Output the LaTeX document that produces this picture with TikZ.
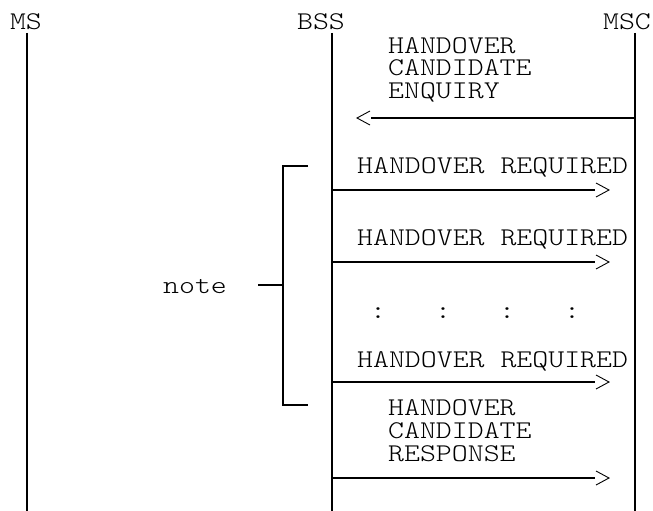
\documentclass[tikz,border=0pt]{standalone}
\usepackage{fontspec}
\newfontfamily\cour{Latin Modern Mono Light}[FakeStretch=1.19]
\begin{document}
\begin{tikzpicture}[x=1pt,y=-1pt,
  lbl/.style={font=\cour\fontsize{25.5}{23}\selectfont, inner sep=0pt, anchor=base west, text height=15pt, text depth=3pt},
  head/.style={font=\cour\fontsize{25.5}{23}\selectfont, inner sep=0pt, anchor=base, text height=15pt, text depth=3pt},
  life/.style={line width=1.8pt},
  msg/.style={line width=1.6pt},
  tip/.style={line width=0.9pt},
  brk/.style={line width=1.6pt}]
\useasboundingbox (0,0) rectangle (653,511);
% headers
\node[head] (ms) at (26,30) {MS};
\node[head] (bss) at (321,30) {BSS};
\node[head] (msc) at (627,30) {MSC};
% lifelines
\coordinate (msB) at (27,511);
\coordinate (bssT) at (332,33);
\coordinate (bssB) at (332,511);
\coordinate (mscT) at (635,33);
\coordinate (mscB) at (635,511);
\draw[life] (27,33) coordinate (msT) -- (msB);
\draw[life] (bssT) -- (bssB);
\draw[life] (mscT) -- (mscB);
% enquiry
\node[lbl] (enq1) at (388,53) {HANDOVER};
\node[lbl] (enq2) at (388,76) {CANDIDATE};
\node[lbl] (enq3) at (388,99) {ENQUIRY};
\coordinate (q0) at (635,118);
\coordinate (q1) at (371,118);
\draw[msg] (q0) -- (q1);
\draw[tip] (q1) ++(-1,-7) -- ++(-13,7) -- ++(13,7);
% required 1
\node[lbl] (hr1) at (357,173) {HANDOVER REQUIRED};
\coordinate (a0) at (332,190);
\coordinate (a1) at (595,190);
\draw[msg] (a0) -- (a1);
\draw[tip] (a1) ++(1,-7) -- ++(13,7) -- ++(-13,7);
% required 2
\node[lbl] (hr2) at (357,245) {HANDOVER REQUIRED};
\coordinate (b0) at (332,262);
\coordinate (b1) at (595,262);
\draw[msg] (b0) -- (b1);
\draw[tip] (b1) ++(1,-7) -- ++(13,7) -- ++(-13,7);
% dots
\node[lbl, anchor=center] (d1) at (378,312) {:};
\node[lbl, anchor=center] (d2) at (443,312) {:};
\node[lbl, anchor=center] (d3) at (507,312) {:};
\node[lbl, anchor=center] (d4) at (572,312) {:};
% required 3
\node[lbl] (hr3) at (357,367) {HANDOVER REQUIRED};
\coordinate (c0) at (332,382);
\coordinate (c1) at (595,382);
\draw[msg] (c0) -- (c1);
\draw[tip] (c1) ++(1,-7) -- ++(13,7) -- ++(-13,7);
% response
\node[lbl] (rsp1) at (388,415) {HANDOVER};
\node[lbl] (rsp2) at (388,438) {CANDIDATE};
\node[lbl] (rsp3) at (388,461) {RESPONSE};
\coordinate (r0) at (332,478);
\coordinate (r1) at (595,478);
\draw[msg] (r0) -- (r1);
\draw[tip] (r1) ++(1,-7) -- ++(13,7) -- ++(-13,7);
% bracket
\coordinate (bt) at (308,166);
\coordinate (bb) at (308,405);
\coordinate (bm) at (283,285);
\draw[brk] (bt) -- (283,166) -- (283,405) -- (bb);
\node[lbl] (note) at (163,293) {note};
\coordinate (nt) at (258,285);
\draw[brk] (nt) -- (bm);
\end{tikzpicture}
\end{document}
